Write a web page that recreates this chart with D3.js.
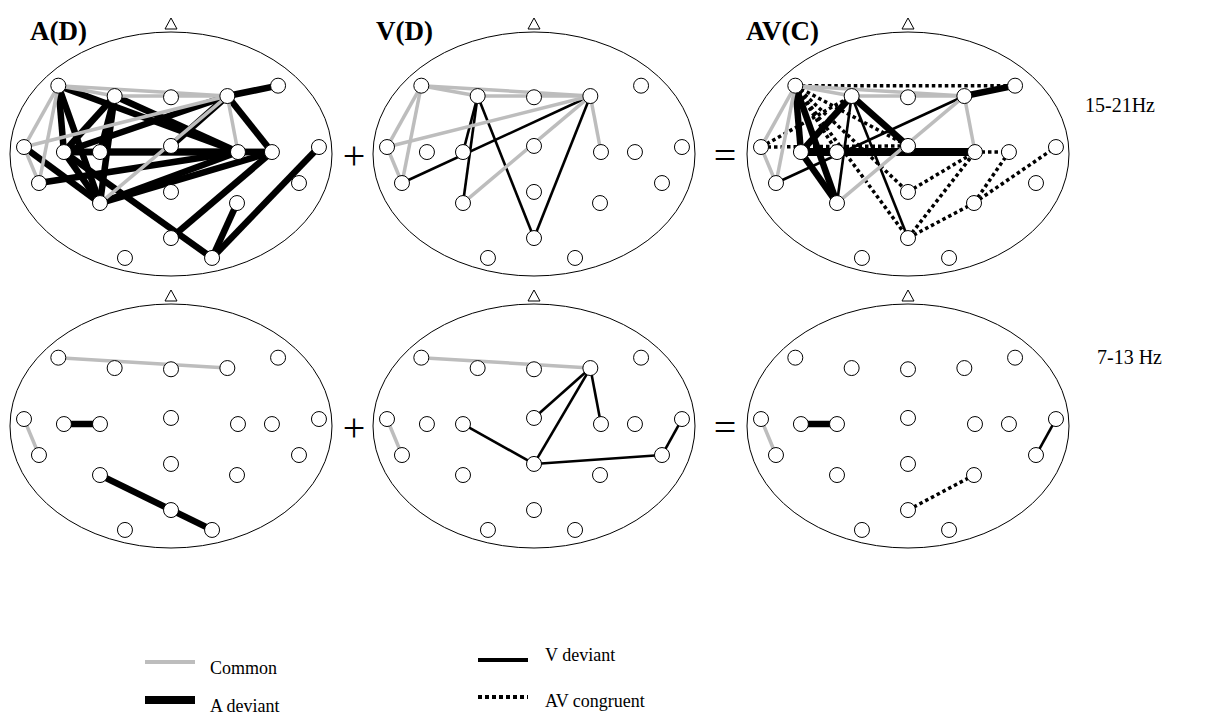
<!DOCTYPE html>
<html><head><meta charset="utf-8">
<script src="https://cdn.jsdelivr.net/npm/d3@7"></script>
<style>html,body{margin:0;padding:0;background:#fff;}svg{display:block;}</style>
</head><body>
<svg id="chart" width="1220" height="717"></svg>
<script>
// ---- data ----
const conditions = ["A(D)", "V(D)", "AV(C)"];
const bands = ["15-21Hz", "7-13 Hz"];
const operators = ["+", "="];
// electrode layout in head units (x: -1..1 left/right, y: -1..1 front/back)
const electrodes = [
  [-0.70,-0.56],[-0.35,-0.475],[0,-0.465],[0.35,-0.475],[0.665,-0.56],
  [-0.913,-0.057],[-0.665,-0.016],[-0.441,-0.016],[0,-0.066],[0.416,-0.016],[0.627,-0.016],[0.919,-0.057],
  [-0.82,0.238],[-0.441,0.402],[0,0.311],[0.41,0.402],[0.795,0.238],
  [0,0.689],[-0.286,0.852],[0.255,0.852]
];
// edges: [electrode, electrode, type]  C=common, A=A deviant, V=V deviant, AV=AV congruent
const beta_AD = [
  [3,4,"A"],[3,10,"A"],[0,6,"A"],[0,13,"A"],[0,9,"A"],[1,9,"A"],[1,6,"A"],[3,6,"A"],[3,8,"A"],
  [6,9,"A"],[6,10,"A"],[7,9,"A"],[7,10,"A"],[12,9,"A"],[13,10,"A"],[13,9,"A"],[5,13,"A"],[6,13,"A"],
  [6,19,"A"],[19,11,"A"],[19,15,"A"],[17,10,"A"],[1,13,"A"],[1,7,"A"],
  [0,3,"C"],[1,3,"C"],[0,1,"C"],[0,5,"C"],[0,12,"C"],[5,12,"C"],[5,3,"C"],[3,9,"C"],[3,13,"C"]
];
const beta_VD = [
  [1,7,"V"],[1,13,"V"],[1,17,"V"],[3,17,"V"],[12,3,"V"],
  [0,3,"C"],[0,1,"C"],[1,3,"C"],[0,5,"C"],[0,12,"C"],[5,12,"C"],[5,3,"C"],[3,9,"C"],[3,13,"C"]
];
const beta_AVC = [
  [0,4,"AV"],[5,1,"AV"],[5,8,"AV"],[0,8,"AV"],[0,7,"AV"],[0,14,"AV"],[1,6,"AV"],[0,17,"AV"],
  [14,9,"AV"],[17,9,"AV"],[17,15,"AV"],[15,10,"AV"],[15,11,"AV"],[9,10,"AV"],
  [0,6,"A"],[0,13,"A"],[6,13,"A"],[1,8,"A"],[1,6,"A"],[6,9,"A+"],[3,4,"A"],
  [12,3,"V"],[1,13,"V"],[1,17,"V"],
  [0,3,"C"],[0,1,"C"],[1,3,"C"],[0,5,"C"],[0,12,"C"],[5,12,"C"],[3,9,"C"],[3,13,"C"]
];
const alpha_AD = [[6,7,"A"],[13,19,"A"],[0,3,"C"],[5,12,"C"]];
const alpha_VD = [[3,8,"V"],[3,9,"V"],[3,14,"V"],[7,14,"V"],[14,16,"V"],[16,11,"V"],[0,3,"C"],[5,12,"C"]];
const alpha_AVC = [[6,7,"A"],[16,11,"V"],[17,15,"AV"],[5,12,"C"]];
const panels = [[beta_AD, beta_VD, beta_AVC], [alpha_AD, alpha_VD, alpha_AVC]];
const legendTypes = ["C", "A", "V", "AV"];
const legendLabels = ["Common", "A deviant", "V deviant", "AV congruent"];

// ---- layout / styles ----
const headCX = [171, 534, 908], headCY = [154, 426], RX = 161, RY = 122;
const style = {
  C:   {stroke:"#bdbdbd", w:3.5, dash:null},
  A:   {stroke:"#000", w:6.5, dash:null},
  "A+":{stroke:"#000", w:8, dash:null},
  V:   {stroke:"#000", w:2.6, dash:null},
  AV:  {stroke:"#000", w:3.5, dash:"3.5,3"}
};
const order = {AV:0, A:1, "A+":1, V:2, C:3};
const serif = "'Liberation Serif','Times New Roman',serif";
const svg = d3.select("#chart");

panels.forEach((row, r) => {
  row.forEach((edges, c) => {
    const x = d3.scaleLinear().domain([-1, 1]).range([headCX[c] - RX, headCX[c] + RX]);
    const y = d3.scaleLinear().domain([-1, 1]).range([headCY[r] - RY, headCY[r] + RY]);
    const g = svg.append("g");
    g.append("ellipse").attr("cx", x(0)).attr("cy", y(0)).attr("rx", RX).attr("ry", RY)
      .attr("fill", "none").attr("stroke", "#000").attr("stroke-width", 1);
    // nose
    const top = y(-1);
    g.append("path").attr("d", `M${x(0)-6},${top-3}L${x(0)},${top-14}L${x(0)+6},${top-3}Z`)
      .attr("fill", "#fff").attr("stroke", "#000").attr("stroke-width", 1);
    const sorted = edges.slice().sort((a, b) => order[a[2]] - order[b[2]]);
    g.selectAll("line.e").data(sorted).join("line").attr("class", "e")
      .attr("x1", d => x(electrodes[d[0]][0])).attr("y1", d => y(electrodes[d[0]][1]))
      .attr("x2", d => x(electrodes[d[1]][0])).attr("y2", d => y(electrodes[d[1]][1]))
      .attr("stroke", d => style[d[2]].stroke).attr("stroke-width", d => style[d[2]].w)
      .attr("stroke-dasharray", d => style[d[2]].dash);
    g.selectAll("circle").data(electrodes).join("circle")
      .attr("cx", d => x(d[0])).attr("cy", d => y(d[1])).attr("r", 7.5)
      .attr("fill", "#fff").attr("stroke", "#000").attr("stroke-width", 1);
  });
  // operators
  operators.forEach((op, i) => {
    svg.append("text").attr("x", i === 0 ? 354 : 725).attr("y", headCY[r] + 1)
      .attr("text-anchor", "middle").attr("dominant-baseline", "central")
      .attr("font-family", serif).attr("font-size", 40).text(op);
  });
  svg.append("text").attr("x", r === 0 ? 1085 : 1097).attr("y", r === 0 ? 112 : 364)
    .attr("font-family", serif).attr("font-size", 20).text(bands[r]);
});

// titles
const titleX = [30, 376, 746];
conditions.forEach((t, i) => {
  svg.append("text").attr("x", titleX[i]).attr("y", 40)
    .attr("font-family", serif).attr("font-weight", "bold").attr("font-size", 27).text(t);
});

// legend
const legX = [145, 145, 478, 478], legY = [662, 700, 660, 697];
const legTX = [210, 210, 545, 545], legTY = [674, 712, 661, 707];
const legW = {C:4, A:8, V:4, AV:4};
legendTypes.forEach((t, i) => {
  svg.append("line").attr("x1", legX[i]).attr("x2", legX[i] + 50).attr("y1", legY[i]).attr("y2", legY[i])
    .attr("stroke", style[t].stroke).attr("stroke-width", legW[t])
    .attr("stroke-dasharray", t === "AV" ? "4,3" : null);
  svg.append("text").attr("x", legTX[i]).attr("y", legTY[i])
    .attr("font-family", serif).attr("font-size", 18).text(legendLabels[i]);
});
</script>
</body></html>
